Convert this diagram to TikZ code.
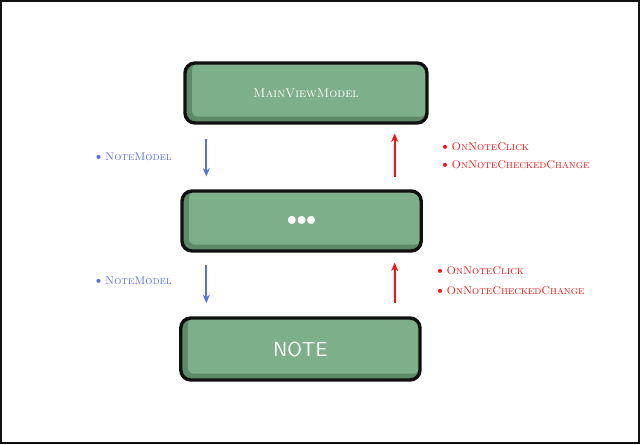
\documentclass[tikz,border=0pt]{standalone}
\usepackage{xcolor}
\usepackage{tikz}
\usetikzlibrary{arrows.meta,calc,positioning}
\definecolor{ink}{HTML}{101010}
\definecolor{leaf}{HTML}{7DB08A}
\definecolor{leafdark}{HTML}{5E8A68}
\definecolor{down}{HTML}{5570E8}
\definecolor{up}{HTML}{FF1010}

\tikzset{
  layer/.style={draw=ink,line width=2.4pt,rounded corners=2.5mm,fill=leafdark,
    minimum width=6cm,minimum height=1.5cm,text=white,inner sep=0pt,
    path picture={\fill[leaf,rounded corners=1.5mm]
      ([xshift=5pt,yshift=4.5pt]path picture bounding box.south west) rectangle
      ([xshift=-0.5pt,yshift=-0.5pt]path picture bounding box.north east);}},
  dnarrow/.style={down,line width=1.4pt,-{Stealth[length=6pt,width=5pt]}},
  uparrow/.style={up,line width=1.4pt,-{Stealth[length=6pt,width=5pt]}},
  dnlabel/.style={down,font=\footnotesize\scshape,anchor=east,inner sep=0pt},
  uplabel/.style={up,font=\footnotesize\scshape,anchor=west,inner sep=0pt}
}

\begin{document}
\begin{tikzpicture}
  \useasboundingbox (0,0) rectangle (16,11.1);
  \draw[ink,line width=1.5pt] (0.03,0.03) rectangle (15.97,11.07);

  \node[layer,minimum width=6.05cm,font=\small\scshape] (mvm) at (7.65,8.775) {MainViewModel};
  \node[layer,minimum width=5.98cm,font=\fontsize{15}{15}\selectfont] (mid) at (7.54,5.575) {$\bullet\mkern-4.5mu\bullet\mkern-4.5mu\bullet$};
  \node[layer,minimum width=5.98cm,minimum height=1.55cm,font=\Large\sffamily] (note) at (7.51,2.375) {NOTE};

  % arrow columns
  \coordinate (dncol) at ([xshift=0.575cm]mvm.south west);
  \coordinate (upcol) at ([xshift=-0.85cm]mvm.south east);

  % MainViewModel <-> ...
  \draw[dnarrow] ($(mvm.south -| dncol)+(0,-0.35)$) -- ($(mid.north -| dncol)+(0,0.32)$);
  \draw[uparrow] ($(mid.north -| upcol)+(0,0.32)$) -- ($(mvm.south -| upcol)+(0,-0.22)$);
  \node[dnlabel] (prop1) at (4.3,7.175) {\textbullet\,NoteModel};
  \node[uplabel] (click1) at (11.0,7.425) {\textbullet\,OnNoteClick};
  \node[uplabel] (check1) at (11.0,6.975) {\textbullet\,OnNoteCheckedChange};

  % ... <-> Note
  \draw[dnarrow] ($(mid.south -| dncol)+(0,-0.3)$) -- ($(note.north -| dncol)+(0,0.33)$);
  \draw[uparrow] ($(note.north -| upcol)+(0,0.33)$) -- ($(mid.south -| upcol)+(0,-0.25)$);
  \node[dnlabel] (prop2) at (4.3,4.075) {\textbullet\,NoteModel};
  \node[uplabel] (click2) at (10.875,4.325) {\textbullet\,OnNoteClick};
  \node[uplabel] (check2) at (10.875,3.825) {\textbullet\,OnNoteCheckedChange};
\end{tikzpicture}
\end{document}
